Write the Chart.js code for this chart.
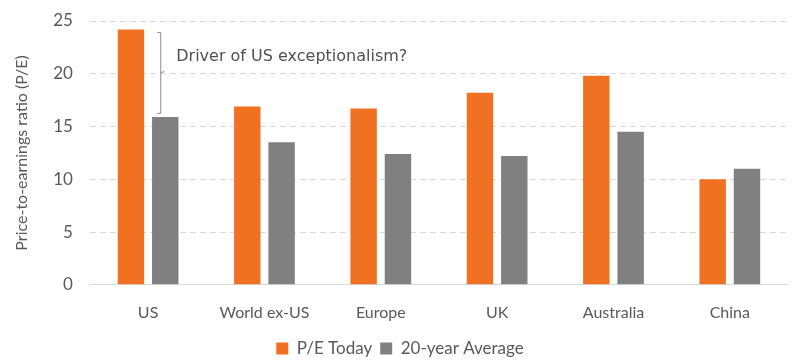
<!DOCTYPE html>
<html>
<head>
<meta charset="utf-8">
<script src="https://cdn.jsdelivr.net/npm/chart.js@4/dist/chart.umd.min.js"></script>
<style>
    html, body { margin: 0; padding: 0; background: #fff; }
    #wrap { width: 793px; height: 364px; }
</style>
</head>
<body>
<div id="wrap"><canvas id="myChart" width="793" height="364"></canvas></div>
<script>
// данные графика
const regions = ['US', 'World ex-US', 'Europe', 'UK', 'Australia', 'China']
const peToday = [24.2, 16.9, 16.7, 18.2, 19.8, 10.0]
const peAverage = [15.9, 13.5, 12.4, 12.2, 14.5, 11.0]
const yTicks = [0, 5, 10, 15, 20, 25]
const note = 'Driver of US exceptionalism?'

const textColor = '#595959'
const gridColor = '#d9d9d9'

// плагин для скобки с подписью над US
const notePlugin = {
    id: 'note',
    afterDatasetsDraw(chart) {
        const ctx = chart.ctx
        const y = chart.scales.y
        const bar = chart.getDatasetMeta(1).data[0]
        const x = bar.x - 5
        const top = y.getPixelForValue(peToday[0] - 0.25)
        const bottom = y.getPixelForValue(peAverage[0] + 0.4)
        const mid = (top + bottom) / 2

        ctx.save()
        ctx.strokeStyle = '#8c8c8c'
        ctx.lineWidth = 1
        ctx.beginPath()
        ctx.moveTo(x - 3, top + 0.5)
        ctx.lineTo(x + 0.5, top + 0.5)
        ctx.lineTo(x + 0.5, bottom + 0.5)
        ctx.lineTo(x - 3, bottom + 0.5)
        ctx.moveTo(x + 0.5, mid + 0.5)
        ctx.lineTo(x + 4, mid - 1)
        ctx.stroke()

        ctx.fillStyle = '#505050'
        ctx.font = '16px "DejaVu Sans"'
        ctx.textBaseline = 'middle'
        ctx.fillText(note, x + 16, mid - 16)
        ctx.restore()
    }
}

const data = {
    labels: regions,
    datasets: [{
        label: 'P/E Today',
        data: peToday,
        backgroundColor: '#f07122'
    }, {
        label: '20-year Average',
        data: peAverage,
        backgroundColor: '#808080'
    }]
}

const myChart = new Chart(document.getElementById('myChart'), {
    type: 'bar',
    data: data,
    plugins: [notePlugin],
    options: {
        responsive: false,
        animation: false,
        categoryPercentage: 0.59,
        barPercentage: 0.77,
        layout: { padding: { top: 21, right: 5, left: 12, bottom: -3 } },
        plugins: {
            tooltip: { enabled: false },
            legend: {
                position: 'bottom',
                labels: {
                    color: textColor,
                    font: { family: 'Lato', size: 17 },
                    boxWidth: 12,
                    boxHeight: 12,
                    padding: 8
                }
            }
        },
        scales: {
            x: {
                grid: { display: false },
                border: { display: true, color: gridColor, width: 1 },
                ticks: {
                    color: textColor,
                    font: { family: 'Lato', size: 16 },
                    padding: 10
                }
            },
            y: {
                min: 0,
                max: 25,
                afterBuildTicks(scale) {
                    scale.ticks = yTicks.map(v => ({ value: v }))
                },
                grid: {
                    color: c => c.tick && c.tick.value === 0 ? 'rgba(0,0,0,0)' : gridColor,
                    drawTicks: true,
                    tickLength: 13,
                    tickColor: 'rgba(0,0,0,0)'
                },
                border: { display: false, dash: [6, 4] },
                ticks: {
                    color: textColor,
                    font: { family: 'Lato', size: 17 },
                    padding: 4
                },
                title: {
                    display: true,
                    text: 'Price-to-earnings ratio (P/E)',
                    color: textColor,
                    font: { family: 'Lato', size: 16 },
                    padding: { top: 0, bottom: 18 }
                }
            }
        }
    }
})
</script>
</body>
</html>
